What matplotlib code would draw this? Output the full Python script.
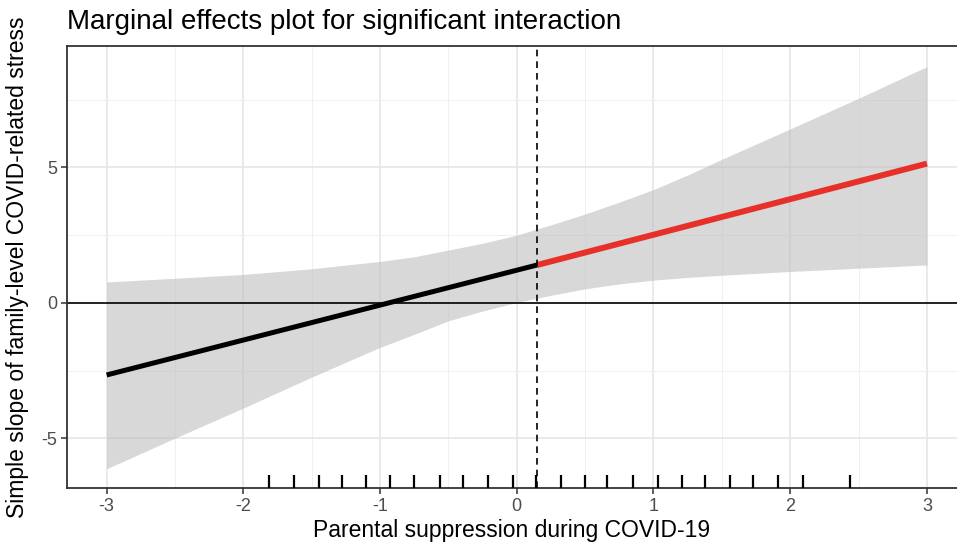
import matplotlib
matplotlib.use("Agg")
import matplotlib.pyplot as plt
import matplotlib.transforms as mtransforms
from matplotlib.ticker import MultipleLocator

plt.rcParams['font.family'] = ['Liberation Sans', 'DejaVu Sans']

# ---- data ----
band_x = [-3.0, -2.5, -2.0, -1.5, -1.0, -0.75, -0.5, -0.25, 0.0, 0.25, 0.5, 0.75,
          1.0, 1.25, 1.5, 2.0, 2.5, 3.0]
band_upper = [0.77, 0.91, 1.05, 1.26, 1.53, 1.70, 1.95, 2.20, 2.50, 2.88, 3.28, 3.72,
              4.18, 4.72, 5.30, 6.42, 7.55, 8.72]
band_lower = [-6.12, -4.99, -3.88, -2.74, -1.64, -1.16, -0.66, -0.30, 0.02, 0.28, 0.52, 0.70,
              0.84, 0.94, 1.02, 1.16, 1.28, 1.40]

ns_x = [-3.0, 0.15]          # non-significant region
ns_y = [-2.66, 1.40]
sig_x = [0.15, 3.0]          # significant region
sig_y = [1.40, 5.14]

jn_point = 0.15              # Johnson-Neyman boundary

rug_x = [-1.81, -1.63, -1.45, -1.28, -1.10, -0.93, -0.75, -0.56, -0.39, -0.21,
         -0.03, 0.14, 0.32, 0.50, 0.66, 0.85, 1.03, 1.21, 1.38, 1.56, 1.73,
         1.91, 2.09, 2.44]

x_ticks = [-3, -2, -1, 0, 1, 2, 3]
y_ticks = [-5, 0, 5]

title = "Marginal effects plot for significant interaction"
xlabel = "Parental suppression during COVID-19"
ylabel = "Simple slope of family-level COVID-related stress"

# ---- figure ----
fig = plt.figure(figsize=(9.57, 5.47), dpi=100)
ax = fig.add_axes([0.070, 0.1079, 0.930, 0.808])

ax.set_xlim(-3.29, 3.22)
ax.set_ylim(-6.83, 9.48)

ax.xaxis.set_minor_locator(MultipleLocator(0.5))
ax.yaxis.set_minor_locator(MultipleLocator(2.5))
ax.set_xticks(x_ticks)
ax.set_yticks(y_ticks)
ax.set_xticklabels([str(v) for v in x_ticks])
ax.set_yticklabels([str(v) for v in y_ticks])

ax.grid(True, which='major', color='#E6E6E6', linewidth=1.2, zorder=0)
ax.grid(True, which='minor', color='#F0F0F0', linewidth=0.7, zorder=0)
ax.set_axisbelow(True)

ax.fill_between(band_x, band_lower, band_upper, color='#BEBEBE', alpha=0.6,
                linewidth=0, zorder=1)

ax.axhline(0, color='black', linewidth=1.2, zorder=2)
ax.axvline(jn_point, color='black', linewidth=1.2, linestyle=(0, (4, 3)), zorder=4)

ax.plot(ns_x, ns_y, color='black', linewidth=3.6, solid_capstyle='butt', zorder=3)
ax.plot(sig_x, sig_y, color='#E8302A', linewidth=4.3, solid_capstyle='butt', zorder=3)

trans = mtransforms.blended_transform_factory(ax.transData, ax.transAxes)
for rx in rug_x:
    ax.plot([rx, rx], [0, 0.03], color='black', linewidth=1.6, transform=trans,
            zorder=3, solid_capstyle='butt')

for side in ['left', 'top', 'bottom']:
    ax.spines[side].set_color('#333333')
    ax.spines[side].set_linewidth(1.3)
ax.spines['right'].set_visible(False)

ax.tick_params(axis='both', which='major', length=4, width=1.1, color='#333333',
               labelcolor='#4D4D4D', labelsize=13, pad=3)
ax.tick_params(axis='both', which='minor', length=0)

ax.set_xlabel(xlabel, fontsize=16.5, color='black', labelpad=3)
ax.set_ylabel(ylabel, fontsize=16.5, color='black', labelpad=9)
ax.set_title(title, fontsize=20, loc='left', color='black', pad=12)

fig.savefig('out.png', dpi=100)
